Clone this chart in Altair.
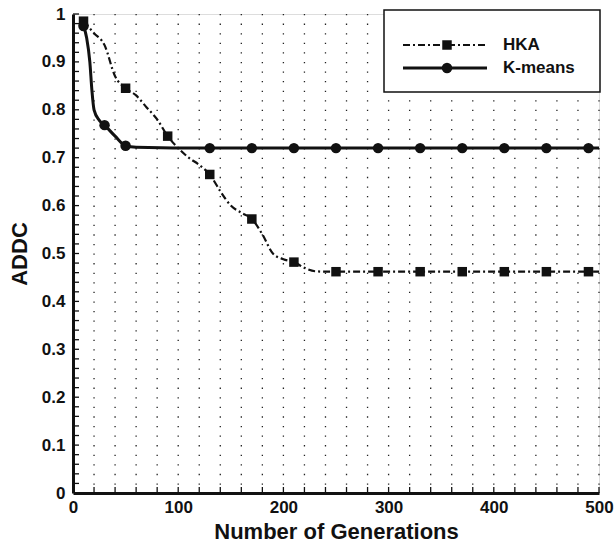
import altair as alt
import numpy as np
import pandas as pd

# HKA curve (line points) and its square markers
hka_x = [10, 20, 30, 40, 50, 60, 70, 80, 90, 100, 110, 120, 130, 140, 150, 160, 170,
         180, 190, 200, 210, 220, 230, 240, 250, 290, 330, 370, 410, 450, 490, 500]
hka_y = [0.985, 0.96, 0.935, 0.87, 0.845, 0.83, 0.805, 0.78, 0.745, 0.72, 0.70, 0.685, 0.665,
         0.63, 0.60, 0.585, 0.572, 0.54, 0.50, 0.488, 0.482, 0.47, 0.463, 0.462, 0.462,
         0.462, 0.462, 0.462, 0.462, 0.462, 0.462, 0.462]
hka_mx = [10, 50, 90, 130, 170, 210, 250, 290, 330, 370, 410, 450, 490]
hka_my = [0.985, 0.845, 0.745, 0.665, 0.572, 0.482, 0.462, 0.462, 0.462, 0.462, 0.462, 0.462, 0.462]

# K-means curve and its circle markers
km_x = [10, 13, 16, 18, 20, 25, 30, 40, 50, 60, 130, 170, 210, 250, 290, 330, 370, 410, 450, 490, 500]
km_y = [0.975, 0.95, 0.90, 0.84, 0.80, 0.778, 0.768, 0.745, 0.725, 0.722, 0.72, 0.72, 0.72,
        0.72, 0.72, 0.72, 0.72, 0.72, 0.72, 0.72, 0.72]
km_mx = [10, 30, 50, 130, 170, 210, 250, 290, 330, 370, 410, 450, 490]
km_my = [0.975, 0.768, 0.725, 0.72, 0.72, 0.72, 0.72, 0.72, 0.72, 0.72, 0.72, 0.72, 0.72]

x_ticks = [0, 100, 200, 300, 400, 500]
y_ticks = [0, 0.1, 0.2, 0.3, 0.4, 0.5, 0.6, 0.7, 0.8, 0.9, 1]
minor_x = list(range(20, 501, 20))
minor_y = [round(v, 2) for v in np.arange(0.02, 1.001, 0.02)]

W, H = 526, 479
FONT = "Liberation Sans"

xs = alt.Scale(domain=[0, 500], nice=False)
ys = alt.Scale(domain=[0, 1], nice=False)

hka_line_df = pd.DataFrame({"x": hka_x, "y": hka_y})
hka_pt_df = pd.DataFrame({"x": hka_mx, "y": hka_my})
km_line_df = pd.DataFrame({"x": km_x, "y": km_y})
km_pt_df = pd.DataFrame({"x": km_mx, "y": km_my})

xaxis = alt.Axis(values=x_ticks, grid=False, ticks=False, domainWidth=3, domainColor="#111",
                 labelFont=FONT, labelFontSize=17, labelFontWeight="bold", labelColor="#111",
                 labelPadding=6, title="Number of Generations", titleFont=FONT,
                 titleFontSize=22, titleFontWeight="bold", titleColor="#111", titlePadding=6,
                 labelFlush=False)
yaxis = alt.Axis(values=y_ticks, grid=False, ticks=False, domainWidth=3, domainColor="#111",
                 labelFont=FONT, labelFontSize=17, labelFontWeight="bold", labelColor="#111",
                 labelPadding=8, format="~g", title="ADDC", titleFont=FONT, titleFontSize=22,
                 titleFontWeight="bold", titleColor="#111", titlePadding=10, labelFlush=False)

# dotted grid: vertical dotted lines every 20 units
grid = alt.Chart(pd.DataFrame({"x": minor_x})).mark_rule(
    color="#222", strokeWidth=1.3, strokeDash=[1.3, 8.28]
).encode(x=alt.X("x:Q", scale=xs), y=alt.value(0), y2=alt.value(H))

axes = alt.Chart(pd.DataFrame({"x": [0], "y": [0]})).mark_point(opacity=0).encode(
    x=alt.X("x:Q", scale=xs, axis=xaxis), y=alt.Y("y:Q", scale=ys, axis=yaxis)
)

xt = alt.Chart(pd.DataFrame({"x": minor_x})).mark_rule(color="#111", strokeWidth=1.3).encode(
    x=alt.X("x:Q", scale=xs), y=alt.value(H), y2=alt.value(H - 6)
)
yt = alt.Chart(pd.DataFrame({"y": minor_y})).mark_rule(color="#111", strokeWidth=1.3).encode(
    y=alt.Y("y:Q", scale=ys), x=alt.value(0), x2=alt.value(6)
)

hka_line = alt.Chart(hka_line_df).mark_line(
    color="#111", strokeWidth=2.2, strokeDash=[7, 3, 2, 3], interpolate="monotone"
).encode(x=alt.X("x:Q", scale=xs), y=alt.Y("y:Q", scale=ys))
hka_pts = alt.Chart(hka_pt_df).mark_point(
    shape="square", filled=True, color="#111", size=90, opacity=1
).encode(x=alt.X("x:Q", scale=xs), y=alt.Y("y:Q", scale=ys))

km_line = alt.Chart(km_line_df).mark_line(
    color="#111", strokeWidth=3, interpolate="monotone"
).encode(x=alt.X("x:Q", scale=xs), y=alt.Y("y:Q", scale=ys))
km_pts = alt.Chart(km_pt_df).mark_point(
    shape="circle", filled=True, color="#111", size=110, opacity=1
).encode(x=alt.X("x:Q", scale=xs), y=alt.Y("y:Q", scale=ys))

# legend
leg_names = ["HKA", "K-means"]
leg_box = alt.Chart(pd.DataFrame({"a": [0]})).mark_rect(
    fill="white", stroke="#111", strokeWidth=1.5
).encode(x=alt.value(311), x2=alt.value(527), y=alt.value(-4), y2=alt.value(78))
leg_hka_line = alt.Chart(pd.DataFrame({"a": [0]})).mark_rule(
    color="#111", strokeWidth=2.2, strokeDash=[7, 3, 2, 3]
).encode(x=alt.value(330), x2=alt.value(414), y=alt.value(31))
leg_km_line = alt.Chart(pd.DataFrame({"a": [0]})).mark_rule(
    color="#111", strokeWidth=3
).encode(x=alt.value(330), x2=alt.value(414), y=alt.value(54))
leg_hka_pt = alt.Chart(pd.DataFrame({"a": [0]})).mark_point(
    shape="square", filled=True, color="#111", size=90, opacity=1
).encode(x=alt.value(374), y=alt.value(31))
leg_km_pt = alt.Chart(pd.DataFrame({"a": [0]})).mark_point(
    shape="circle", filled=True, color="#111", size=110, opacity=1
).encode(x=alt.value(374), y=alt.value(54))
leg_text = alt.Chart(pd.DataFrame({"t": leg_names, "yy": [31, 54]})).mark_text(
    align="left", baseline="middle", font=FONT, fontSize=17, fontWeight="bold", color="#111"
).encode(x=alt.value(430), y=alt.Y("yy:Q", scale=None), text="t:N")

chart = alt.layer(
    grid, axes, xt, yt, hka_line, km_line, hka_pts, km_pts,
    leg_box, leg_hka_line, leg_km_line, leg_hka_pt, leg_km_pt, leg_text
).properties(
    width=W, height=H,
    padding={"left": 73, "top": 14, "right": 15, "bottom": 54},
    autosize=alt.AutoSizeParams(type="none"),
).configure_view(stroke=None).configure(background="white")

chart.save("out.html", embed_options={"renderer": "svg", "actions": False})
